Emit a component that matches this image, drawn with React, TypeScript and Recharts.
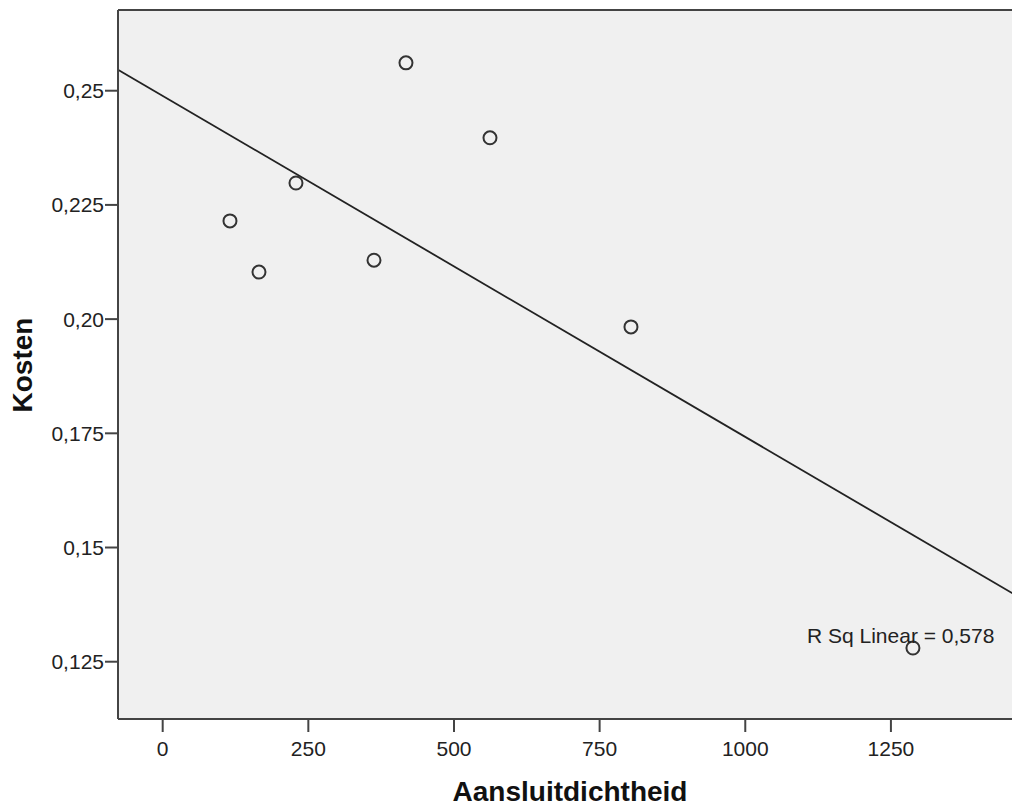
import { ScatterChart, Scatter, XAxis, YAxis, CartesianGrid, ReferenceLine } from 'recharts'

// Aansluitdichtheid vs Kosten
const dichtheid = [417.6, 561.8, 228.8, 115.5, 165.3, 362.7, 803.8, 1287.8]
const kosten = [0.2561, 0.2397, 0.2298, 0.2215, 0.2103, 0.2129, 0.1983, 0.128]

const xTicks = [0, 250, 500, 750, 1000, 1250]
const yTicks = [0.125, 0.15, 0.175, 0.2, 0.225, 0.25]

const X_MIN = -76.7
const X_MAX = 1475
const Y_MIN = 0.11246
const Y_MAX = 0.26767

const points = dichtheid.map((x, i) => ({ x, y: kosten[i] }))

// least squares fit for the R Sq Linear line
const n = dichtheid.length
const mx = dichtheid.reduce((a, b) => a + b, 0) / n
const my = kosten.reduce((a, b) => a + b, 0) / n
let sxy = 0
let sxx = 0
dichtheid.forEach((x, i) => {
  sxy += (x - mx) * (kosten[i] - my)
  sxx += (x - mx) * (x - mx)
})
const slope = sxy / sxx
const intercept = my - slope * mx
const fit = (x: number) => intercept + slope * x

const FONT = '"Liberation Sans", Arial, sans-serif'
const tickStyle = { fontSize: 21, fill: '#222', fontFamily: FONT }

// SPSS style: at least two decimals, comma separator
const formatY = (v: number) => {
  const dec = Math.max(2, (String(v).split('.')[1] || '').length)
  return v.toFixed(dec).replace('.', ',')
}

const OpenCircle = (props: any) => (
  <circle cx={props.cx} cy={props.cy} r={6.5} fill="none" stroke="#333" strokeWidth={2} />
)

export default function App() {
  return (
    <div style={{ position: 'absolute', left: 0, top: 0, width: 1012, height: 808, overflow: 'hidden', background: '#fff', fontFamily: FONT }}>
      <ScatterChart width={1022} height={808} margin={{ top: 10, right: 0, bottom: 0, left: 0 }}>
        <CartesianGrid horizontal={false} vertical={false} fill="#f0f0f0" stroke="none" />
        <XAxis
          type="number"
          dataKey="x"
          domain={[X_MIN, X_MAX]}
          ticks={xTicks}
          allowDataOverflow
          height={89}
          tickSize={13}
          tickMargin={9}
          tick={tickStyle}
          axisLine={{ stroke: '#444', strokeWidth: 2 }}
          tickLine={{ stroke: '#444', strokeWidth: 2 }}
        />
        <YAxis
          type="number"
          dataKey="y"
          domain={[Y_MIN, Y_MAX]}
          ticks={yTicks}
          allowDataOverflow
          width={118}
          tickSize={13}
          tickMargin={1}
          tickFormatter={formatY}
          tick={tickStyle}
          axisLine={{ stroke: '#444', strokeWidth: 2 }}
          tickLine={{ stroke: '#444', strokeWidth: 2 }}
        />
        <ReferenceLine y={Y_MAX} stroke="#444" strokeWidth={2} />
        <ReferenceLine
          segment={[{ x: X_MIN, y: fit(X_MIN) }, { x: X_MAX, y: fit(X_MAX) }]}
          stroke="#222"
          strokeWidth={1.8}
        />
        <Scatter data={points} shape={OpenCircle} isAnimationActive={false} />
      </ScatterChart>

      <div style={{ position: 'absolute', left: 807, top: 625, fontSize: 21, lineHeight: '21px', color: '#222', whiteSpace: 'nowrap' }}>
        R Sq Linear = 0,578
      </div>
      <div style={{ position: 'absolute', left: 370, top: 780, width: 400, textAlign: 'center', fontSize: 28, lineHeight: '24px', fontWeight: 'bold', color: '#111' }}>
        Aansluitdichtheid
      </div>
      <div style={{ position: 'absolute', left: -76.7, top: 350.5, width: 200, height: 28, textAlign: 'center', fontSize: 28, lineHeight: '28px', fontWeight: 'bold', color: '#111', transform: 'rotate(-90deg)' }}>
        Kosten
      </div>
    </div>
  )
}
